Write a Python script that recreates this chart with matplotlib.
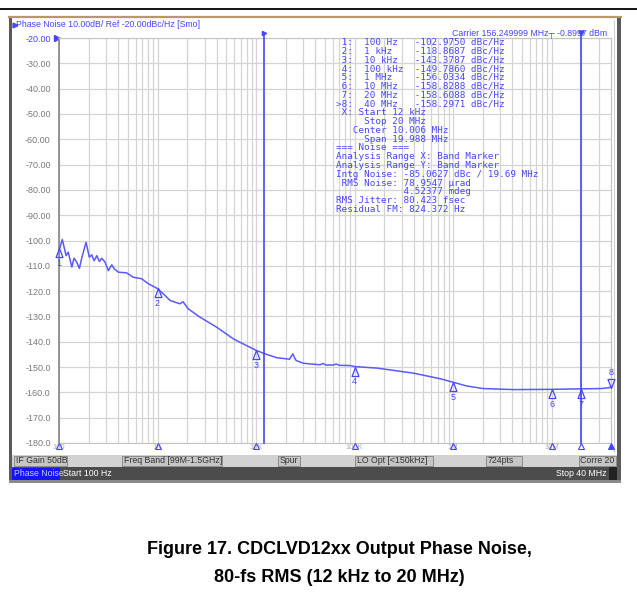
import numpy as np
import matplotlib
matplotlib.use("Agg")
import matplotlib.pyplot as plt
from matplotlib.patches import Rectangle
from matplotlib.path import Path

plt.rcParams['font.family'] = ['Liberation Sans', 'DejaVu Sans']

# trace (offset frequency in Hz, dBc/Hz)
freq_hz = [100, 102, 108, 118, 124, 135, 142, 151, 161, 170,
           188, 203, 215, 227, 242, 257, 271, 293, 317, 343,
           364, 400, 486, 567, 690, 808, 1000, 1190, 1340, 1570,
           1690, 1815, 2050, 2700, 4000, 5900, 8000, 10000, 12800, 16200,
           18900, 21800, 22600, 23600, 24700, 25500, 30200, 44600, 47900, 51000,
           60900, 65000, 70000, 90000, 100000, 168000, 395000, 738000, 1000000, 1380000,
           2030000, 4100000, 10000000, 20000000, 31000000, 38000000, 40000000]
noise_dbc = [-103, -103, -99.6, -106, -104.6, -110.5, -107, -108.5, -111, -107,
             -100.7, -106.6, -105.7, -108, -106, -108.3, -107, -108.5, -111.9, -109.6,
             -111.2, -112.5, -112.8, -114.5, -115.1, -117.1, -119.0, -121.7, -123.7, -124.6,
             -125, -124.2, -127, -130.3, -134.3, -138.9, -141.5, -143.4, -145, -146.3,
             -146.6, -146.9, -146.0, -144.8, -146.5, -147.4, -148.5, -149.1, -148.6, -149.2,
             -149.2, -148.8, -149.3, -149.4, -149.8, -150.4, -152.4, -154.6, -156.0, -157.5,
             -158.5, -158.9, -158.8, -158.6, -158.5, -158.2, -157.8]

# markers
marker_freq = [100, 1e3, 10e3, 100e3, 1e6, 10e6, 20e6, 40e6]
marker_name = ['100 Hz', '1 kHz', '10 kHz', '100 kHz', '1 MHz', '10 MHz', '20 MHz', '40 MHz']
marker_db = [-102.9750, -118.8687, -143.3787, -149.7860, -156.0334, -158.8288, -158.6088, -158.2971]

band_start = 12e3
band_stop = 20e6

y_ticks = list(range(-20, -181, -10))
x_ticks = [100, 1e3, 1e4, 1e5, 1e6, 1e7]
x_labels = ['100', '1K', '10K', '100K', '1M', '10M']

info_lines = [' X: Start 12 kHz',
              '     Stop 20 MHz',
              '   Center 10.006 MHz',
              '     Span 19.988 MHz',
              '=== Noise ===',
              'Analysis Range X: Band Marker',
              'Analysis Range Y: Band Marker',
              'Intg Noise: -85.0627 dBc / 19.69 MHz',
              ' RMS Noise: 78.9547 \u00b5rad',
              '            4.52377 mdeg',
              'RMS Jitter: 80.423 fsec',
              'Residual FM: 824.372 Hz']

status_items = [('IF Gain 50dB', 14, 67), ('Freq Band [99M-1.5GHz]', 122, 222),
                ('Spur', 278, 300), ('LO Opt [<150kHz]', 355, 433),
                ('724pts', 486, 522), ('Corre 20', 579, 616)]

blue = '#4646ff'
trace_blue = '#5a5aff'

W, H = 637, 599
fig = plt.figure(figsize=(W / 100, H / 100), dpi=100)

# pixel overlay for the instrument window
ov = fig.add_axes([0, 0, 1, 1], zorder=0)
ov.set_xlim(0, W)
ov.set_ylim(H, 0)
ov.axis('off')

ov.plot([0, W], [9, 9], color='black', lw=1.3)
ov.add_patch(Rectangle((9, 16), 612, 467, facecolor='white', edgecolor='none'))
ov.plot([9, 621], [16.5, 16.5], color='#b8986a', lw=1.6)
ov.add_patch(Rectangle((9, 17), 3, 466, facecolor='#5a5a5a', edgecolor='none'))
ov.add_patch(Rectangle((617, 17), 4, 466, facecolor='#5a5a5a', edgecolor='none'))
ov.plot([614, 614], [20, 452], color='#d0d0d0', lw=0.8)
ov.add_patch(Rectangle((9, 480), 612, 3, facecolor='#8a8a8a', edgecolor='none'))

# title line
ov.plot(14.5, 24.5, marker='>', ms=3.5, color=blue)
ov.text(16, 24.5, 'Phase Noise 10.00dB/ Ref -20.00dBc/Hz [Smo]', color=blue,
        fontsize=6.3, va='center', ha='left')
ov.plot(56.5, 37.5, marker='>', ms=4, color=blue)

# status bars
ov.add_patch(Rectangle((12, 454.5), 605, 12.5, facecolor='#d2d2d2', edgecolor='none'))
for label, x0, x1 in status_items:
    ov.add_patch(Rectangle((x0, 455.5), x1 - x0, 10.5, facecolor='#c6c6c6',
                           edgecolor='#8c8c8c', lw=0.7))
    if label == 'Corre 20':
        ov.text(x1 - 2, 460.8, label, fontsize=6.3, va='center', ha='right', color='#333')
    else:
        ov.text(x0 + 2, 460.8, label, fontsize=6.3, va='center', ha='left', color='#333')
ov.add_patch(Rectangle((12, 467), 605, 13, facecolor='#4c4c4c', edgecolor='none'))
ov.add_patch(Rectangle((12, 467.5), 48, 12, facecolor='#1414ff', edgecolor='none'))
ov.text(14, 473.5, 'Phase Noise', fontsize=6.3, va='center', color='#c8c8ff')
ov.text(63, 473.5, 'Start 100 Hz', fontsize=6.3, va='center', color='white')
ov.text(607, 473.5, 'Stop 40 MHz', fontsize=6.3, va='center', ha='right', color='white')
ov.add_patch(Rectangle((609, 467), 8, 13, facecolor='#222222', edgecolor='none'))

# caption
ov.text(339, 549, 'Figure 17. CDCLVD12xx Output Phase Noise,', fontsize=13,
        fontweight='bold', ha='center', va='center', color='black')
ov.text(339, 577, '80-fs RMS (12 kHz to 20 MHz)', fontsize=13,
        fontweight='bold', ha='center', va='center', color='black')

# main plot
ax = fig.add_axes([59 / W, 1 - 443 / H, 552 / W, 405 / H], zorder=1)
ax.set_facecolor('white')
ax.set_xscale('log')
ax.set_xlim(100, 40e6)
ax.set_ylim(-180, -20)
ax.set_yticks(y_ticks)
ax.set_yticklabels(['%.2f' % v if v > -100 else '%.1f' % v for v in y_ticks],
                   fontsize=6.5, color='#7a7a7a')
ax.get_yticklabels()[0].set_color(blue)
ax.set_xticks(x_ticks)
ax.set_xticklabels(x_labels, fontsize=5.5, color='#b0b0b0')
ax.tick_params(axis='both', which='both', length=0)
ax.tick_params(axis='y', pad=6)
ax.tick_params(axis='x', pad=0.5)
ax.grid(which='major', color='#d4d4d4', lw=0.9)
ax.grid(which='minor', axis='x', color='#d4d4d4', lw=0.9)
for s in ['top', 'right', 'bottom']:
    ax.spines[s].set_color('#c4c4c4')
ax.spines['left'].set_color('#8c8c8c')
ax.spines['left'].set_linewidth(1.3)

ax.plot(freq_hz, noise_dbc, color=trace_blue, lw=1.1, zorder=3)

# band marker lines
for f in [band_start, band_stop]:
    ax.axvline(f, ymin=0, ymax=1.013, color=blue, lw=1.2, clip_on=False, zorder=4)
ax.plot(band_start, 1.013, transform=ax.get_xaxis_transform(), marker='>', ms=3,
        color=blue, clip_on=False)
ax.plot(band_stop, 1.013, transform=ax.get_xaxis_transform(), marker='v', ms=3.5,
        color=blue, clip_on=False)

# trace markers
up_tri = Path([(0, 0), (-0.38, -1), (0.38, -1), (0, 0)])
down_tri = Path([(0, 0), (-0.38, 1), (0.38, 1), (0, 0)])
for i, (f, v) in enumerate(zip(marker_freq, marker_db)):
    if i < 7:
        ax.plot(f, v, marker=up_tri, ms=13, mfc='none', mec=blue, mew=0.9,
                clip_on=False, zorder=5)
        ax.annotate(str(i + 1), (f, v), xytext=(0, -11), textcoords='offset points',
                    ha='center', va='center', fontsize=6.5, color=blue,
                    annotation_clip=False)
    else:
        ax.plot(f, v, marker=down_tri, ms=13, mfc='none', mec=blue, mew=0.9,
                clip_on=False, zorder=5)
        ax.annotate(str(i + 1), (f, v), xytext=(0, 11), textcoords='offset points',
                    ha='center', va='center', fontsize=6.5, color=blue,
                    annotation_clip=False)
    ax.plot(f, -0.008, transform=ax.get_xaxis_transform(), marker='^', ms=5,
            mfc=blue if i == 7 else 'none', mec=blue, mew=0.8, clip_on=False, zorder=5)

# readout text
ax.text(607, 33, 'Carrier 156.249999 MHz\u252c -0.8997 dBm', transform=ov.transData,
        ha='right', va='center', fontsize=6.3, color=blue, zorder=6)
readout = []
for i, (name, v) in enumerate(zip(marker_name, marker_db)):
    tag = '>' if i == 7 else ' '
    readout.append('%s%d:  %s%s%.4f dBc/Hz' % (tag, i + 1, name, ' ' * (9 - len(name)), v))
for k, line in enumerate(readout + info_lines):
    ax.text(336, 42.3 + 8.8 * k, line, transform=ov.transData, ha='left', va='center',
            fontsize=6.7, family='DejaVu Sans Mono', color=blue, zorder=6)

fig.savefig('out.png', dpi=100)
